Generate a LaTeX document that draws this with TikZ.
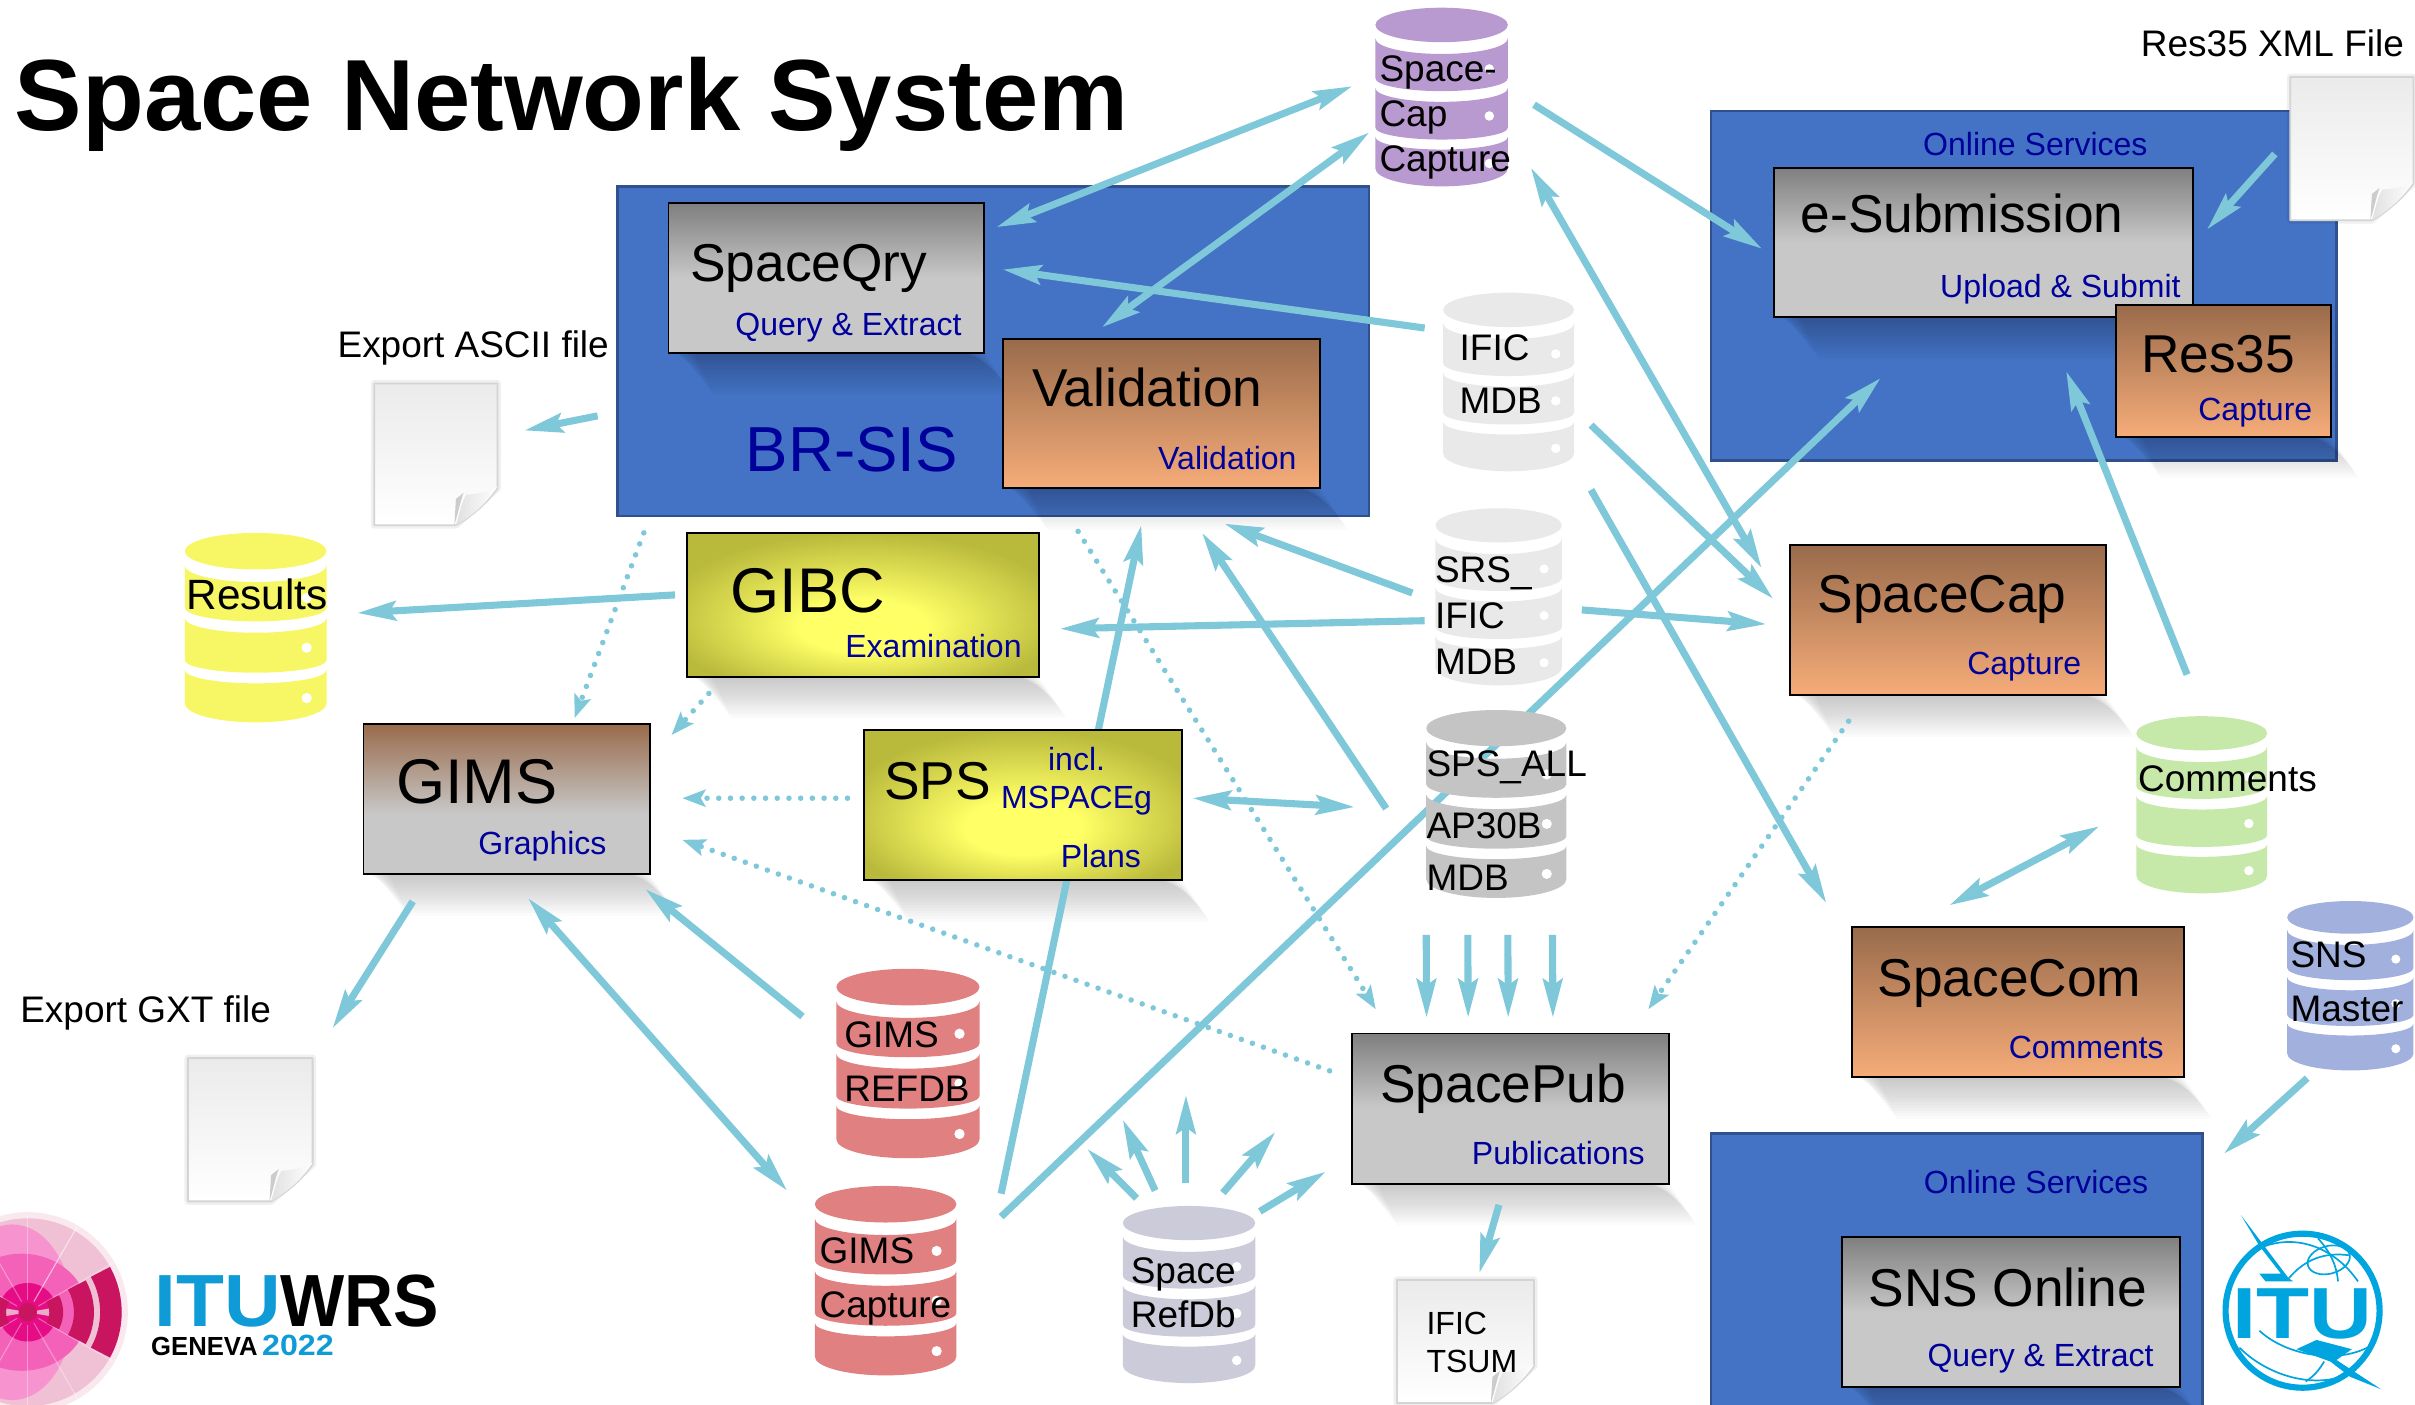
\documentclass[tikz,border=0pt]{standalone}
\usepackage{fontspec}
\setmainfont{Liberation Sans}
\usetikzlibrary{arrows.meta,calc}
\definecolor{panelblue}{HTML}{4472C4}
\definecolor{panelline}{HTML}{2F528F}
\definecolor{subblue}{HTML}{00009A}
\definecolor{flowcyan}{HTML}{7EC8D9}
\definecolor{boxgrey}{HTML}{C8C8C8}
\definecolor{boxdark}{HTML}{7F7F7F}
\definecolor{orangelight}{HTML}{F6AC79}
\definecolor{orangedark}{HTML}{996B4B}
\definecolor{yellowlight}{HTML}{FFFF66}
\definecolor{yellowdark}{HTML}{B9B93C}
\definecolor{dbpurple}{HTML}{B899D0}
\definecolor{dbpale}{HTML}{E9E9E9}
\definecolor{dbgrey}{HTML}{C4C4C4}
\definecolor{dbyellow}{HTML}{F7F765}
\definecolor{dbred}{HTML}{E08080}
\definecolor{dblav}{HTML}{CBCBD9}
\definecolor{dbgreen}{HTML}{C6E8A8}
\definecolor{dbblue}{HTML}{A2B0DE}
\definecolor{ituwrsblue}{HTML}{0E9BD6}
\definecolor{itublue}{HTML}{00A5DF}
\definecolor{wrsdark}{HTML}{C9145F}
\pgfdeclareverticalshading{greybar}{100bp}{color(0bp)=(boxgrey);color(50bp)=(boxgrey);color(75bp)=(boxdark);color(100bp)=(boxdark)}
\pgfdeclareverticalshading{orangebar}{100bp}{color(0bp)=(orangelight);color(25bp)=(orangelight);color(75bp)=(orangedark);color(100bp)=(orangedark)}
\pgfdeclareverticalshading{gimsbar}{100bp}{color(0bp)=(boxgrey);color(45bp)=(boxgrey);color(75bp)=(orangedark);color(100bp)=(orangedark)}
\pgfdeclareradialshading{yellowglow}{\pgfpoint{0bp}{-9bp}}{color(0bp)=(yellowlight);color(9bp)=(yellowlight);color(29bp)=(yellowdark);color(50bp)=(yellowdark)}
\pgfdeclarelayer{panellayer}
\pgfdeclarelayer{shadowlayer}
\pgfdeclarelayer{behindlayer}
\pgfsetlayers{panellayer,shadowlayer,behindlayer,main}
\tikzset{
  boxbase/.style={draw=black,line width=1.2pt,inner sep=0pt,outer sep=0pt,shade},
  appgrey/.style={boxbase,shading=greybar},
  apporange/.style={boxbase,shading=orangebar},
  appgims/.style={boxbase,shading=gimsbar},
  appyellow/.style={boxbase,shading=yellowglow},
  panel/.style={draw=panelline,line width=1.5pt,fill=panelblue,inner sep=0pt,outer sep=0pt},
  flow/.style={draw=flowcyan,line width=4.6pt,-{Stealth[length=25pt,width=12.5pt,inset=4pt]}},
  twoway/.style={flow,{Stealth[length=25pt,width=12.5pt,inset=4pt]}-{Stealth[length=25pt,width=12.5pt,inset=4pt]}},
  dotflow/.style={draw=flowcyan,line width=3.6pt,line cap=round,dash pattern=on 0pt off 7.6pt,-{Stealth[length=15pt,width=11pt,inset=3pt]}},
  maintxt/.style={anchor=base west,inner sep=0pt,font=\fontsize{34.6}{40}\selectfont},
  bigtxt/.style={anchor=base west,inner sep=0pt,font=\fontsize{41}{46}\selectfont},
  subtxt/.style={anchor=base east,inner sep=0pt,text=subblue,font=\fontsize{20.8}{24}\selectfont},
  plaintxt/.style={inner sep=0pt,font=\fontsize{24}{28}\selectfont},
  holder/.style={inner sep=0pt,outer sep=0pt,anchor=north west}
}
% application box: name, style, x1, y1, x2, y2
\newcommand\appbox[6]{%
  \node[#2,anchor=north west,minimum width={(#5-#3)*1pt},minimum height={(#6-#4)*1pt}] (#1) at (#3,#4) {};
  \begin{pgfonlayer}{shadowlayer}
    \foreach \d in {2,4,...,30}
      \fill[black,opacity=.017] ($(#1.south west)+({2+.5*\d},0)$) -- ($(#1.south east)+({-18+.6*\d},0)$)
        -- ($(#1.south east)+({.6*\d},{.9*\d})$) -- ($(#1.south west)+({8+.7*\d},{.9*\d})$) -- cycle;
  \end{pgfonlayer}}
\newcommand\ttl[4]{\node[maintxt] (#1-t) at (#2,#3-1) {#4};}
\newcommand\subl[4]{\node[subtxt] (#1-s) at (#2,#3) {#4};}
\newcommand\segm[4]{%
  \fill (0,#1) .. controls (0,#1+.552*#2) and (.224,#1+#2) .. (.5,#1+#2)
    .. controls (.776,#1+#2) and (1,#1+.552*#2) .. (1,#1) -- (1,#3)
    .. controls (1,#3+.552*#4) and (.776,#3+#4) .. (.5,#3+#4)
    .. controls (.224,#3+#4) and (0,#3+.552*#4) .. (0,#3) -- cycle;}
% database icon: name, x1, y1, x2, y2, colour
\newcommand\dbicon[6]{%
  \pgfmathsetmacro\dbw{#4-#2}\pgfmathsetmacro\dbh{#5-#3}%
  \begin{scope}[shift={(#2,#3)},x=\dbw pt,y=-\dbh pt]
    \fill[#6] (0,.0965) .. controls (0,.0965+.0533) and (.224,.193) .. (.5,.193)
       .. controls (.776,.193) and (1,.0965+.0533) .. (1,.0965)
       .. controls (1,.0433) and (.776,0) .. (.5,0) .. controls (.224,0) and (0,.0433) .. (0,.0965) -- cycle;
    \begin{scope}[fill=#6]
      \segm{.172}{.087}{.395}{.072}
      \segm{.45}{.077}{.672}{.066}
      \segm{.724}{.07}{.9}{.1}
    \end{scope}
    \foreach \q in {.343,.606,.872}
      \fill[white] (.86,\q) ellipse ({.036*\dbw pt} and {.036*\dbw pt});
  \end{scope}
  \node[holder,minimum width=\dbw pt,minimum height=\dbh pt] (#1) at (#2,#3) {};}
% multi-line label: [size] name, x, first baseline, leading, text
\newcommand\lines[6][24]{%
  \node[anchor=north west,inner sep=0pt,align=left,font=\fontsize{#1}{#5}\selectfont] (#2-t) at (#3,#4-18) {\rule{0pt}{18pt}#6};}
% page icon: name, x1, y1, x2, y2
\newcommand\docpage[5]{%
  \pgfmathsetmacro\pw{#4-#2}\pgfmathsetmacro\ph{#5-#3}%
  \begin{scope}[shift={(#2,#3)}]
    \draw[line width=4.5pt,black,opacity=.06,line join=round] (0,0) -- (\pw,0) -- (\pw,\ph-24) -- (\pw-27,\ph) -- (0,\ph) -- cycle;
    \shade[top color=black!8,bottom color=white,draw=black!17,line width=1.2pt,line join=round]
      (0,0) -- (\pw,0) -- (\pw,\ph-24) .. controls (\pw-8,\ph-13) and (\pw-18,\ph-5) .. (\pw-27,\ph) -- (0,\ph) -- cycle;
    \fill[black!20] (\pw-28,\ph) .. controls (\pw-25,\ph-10) and (\pw-24,\ph-16) .. (\pw-22,\ph-21) -- (\pw-27,\ph-17) -- cycle;
    \shade[left color=black!12,right color=white]
      (\pw-27,\ph) .. controls (\pw-24,\ph-10) and (\pw-23,\ph-16) .. (\pw-20,\ph-20)
      .. controls (\pw-13,\ph-20) and (\pw-6,\ph-22) .. (\pw,\ph-25)
      .. controls (\pw-8,\ph-13) and (\pw-18,\ph-5) .. (\pw-27,\ph) -- cycle;
  \end{scope}
  \node[holder,minimum width=\pw pt,minimum height=\ph pt] (#1) at (#2,#3) {};}
% connector between nodes, with offsets from the node centres
\newcommand\conn[5][flow]{\draw[#1] ($(#2)+(#3)$) -- ($(#4)+(#5)$);}
\newcommand\wrsarc[2]{\draw[wrsdark,line width=#2 pt] plot[smooth,domain=-29:29,samples=13] ({#1*cos(\x)},{#1*sin(\x)});}
\begin{document}
\begin{tikzpicture}[x=1pt,y=-1pt]
\useasboundingbox (0,0) rectangle (1568,911.6);

% ---- panels
\begin{pgfonlayer}{panellayer}
  \node[panel,anchor=north west,minimum width=488pt,minimum height=214pt] (brsis) at (401,121) {};
  \node[panel,anchor=north west,minimum width=406pt,minimum height=227pt] (online1) at (1111,72) {};
  \node[panel,anchor=north west,minimum width=319pt,minimum height=180pt] (online2) at (1111,736) {};
\end{pgfonlayer}

% ---- title and free labels
\node[anchor=base west,inner sep=0pt,font=\fontsize{65.7}{70}\selectfont\bfseries] (title) at (9.5,85) {Space Network System};
\node[plaintxt,anchor=base west] (lblascii) at (219,232) {Export ASCII file};
\node[plaintxt,anchor=base west] (lblgxt) at (13,664) {Export GXT file};
\node[plaintxt,anchor=base east] (lblres) at (1561,37) {Res35 XML File};
\node[subtxt,anchor=base] (lblonline1) at (1321.5,101) {Online Services};
\node[subtxt,anchor=base] (lblonline2) at (1322,775) {Online Services};
\node[anchor=base west,inner sep=0pt,text=subblue,font=\fontsize{41.3}{46}\selectfont] (lblbrsis) at (484,306) {BR-SIS};

% ---- application boxes
\appbox{spaceqry}{appgrey}{434}{132}{639}{229}
\ttl{spaceqry}{448}{184}{SpaceQry}\subl{spaceqry}{624.5}{218}{Query \& Extract}
\appbox{validation}{apporange}{651}{220}{857}{317}
\ttl{validation}{670}{265}{Validation}\subl{validation}{842}{305}{Validation}
\appbox{esub}{appgrey}{1152}{109}{1424}{206}
\ttl{esub}{1169}{152}{e-Submission}\subl{esub}{1416}{193}{Upload \& Submit}
\appbox{res35}{apporange}{1374}{198}{1513.5}{283.5}
\ttl{res35}{1390}{243}{Res35}\subl{res35}{1501.5}{273}{Capture}
\appbox{spacecap}{apporange}{1162}{354}{1367.5}{451.5}
\ttl{spacecap}{1180}{399}{SpaceCap}\subl{spacecap}{1351.5}{438}{Capture}
\appbox{spacecom}{apporange}{1202.5}{602}{1418}{699.5}
\ttl{spacecom}{1219}{648}{SpaceCom}\subl{spacecom}{1405}{687}{Comments}
\appbox{spacepub}{appgrey}{878}{671}{1083.5}{768.5}
\ttl{spacepub}{896}{717}{SpacePub}\subl{spacepub}{1068}{756}{Publications}
\appbox{snsonline}{appgrey}{1196}{803}{1415.5}{900.5}
\ttl{snsonline}{1213}{849}{SNS Online}\subl{snsonline}{1398.5}{887}{Query \& Extract}
\appbox{gims}{appgims}{236}{470}{422}{567.5}
\node[bigtxt] (gims-t) at (257,522) {GIMS};\subl{gims}{394}{555}{Graphics}
\appbox{gibc}{appyellow}{446}{346}{674.5}{439.5}
\node[bigtxt] (gibc-t) at (474,398) {GIBC};\subl{gibc}{663.5}{427}{Examination}
\appbox{sps}{appyellow}{561}{474}{767.5}{571.5}
\node[maintxt] (sps-t) at (574,519) {SPS};
\node[subtxt,anchor=base] (sps-a) at (699,500) {incl.};
\node[subtxt,anchor=base] (sps-b) at (699,525) {MSPACEg};
\subl{sps}{741}{563}{Plans}

% ---- databases
\dbicon{spacecapdb}{893}{5}{979}{121}{dbpurple}
\lines{spacecapdb}{895.5}{53}{29}{Space-\\Cap\\Capture}
\dbicon{ific}{937}{190}{1022}{306}{dbpale}
\lines{ific}{947.5}{234}{34}{IFIC\\MDB}
\dbicon{srs}{932}{330}{1014}{445}{dbpale}
\lines{srs}{931.5}{378}{30}{SRS\_\\IFIC\\MDB}
\dbicon{spsall}{926}{461}{1017}{583}{dbgrey}
\lines{spsall}{926}{504}{34}{SPS\_ALL\\[6pt]AP30B\\MDB}
\dbicon{results}{120}{346}{212}{469}{dbyellow}
\lines[27.5]{results}{121}{393.5}{30}{Results}
\dbicon{refdb}{543}{629}{636}{752}{dbred}
\lines{refdb}{548}{680}{35}{GIMS\\REFDB}
\dbicon{gimscap}{529}{770}{621}{893}{dbred}
\lines{gimscap}{532}{820}{35}{GIMS\\Capture}
\dbicon{spacerefdb}{729}{783}{815}{898}{dblav}
\lines{spacerefdb}{734}{833}{29}{Space\\RefDb}
\dbicon{comments}{1387}{465}{1472}{580}{dbgreen}
\lines{comments}{1388}{514}{30}{Comments}
\dbicon{snsmaster}{1485}{585}{1567}{695}{dbblue}
\lines{snsmaster}{1487}{628}{35}{SNS\\Master}

% ---- pages
\docpage{ascii}{243}{249}{323}{341}
\docpage{gxt}{122}{687}{203}{780}
\docpage{tsum}{907}{831}{996}{911}
\docpage{resxml}{1487}{50}{1567}{143}
\lines[20.8]{tsum}{926}{866}{25}{IFIC\\TSUM}

% ---- connectors that run behind the boxes
\begin{pgfonlayer}{behindlayer}
  \conn{gimscap}{75,-56.5}{brsis}{96,113}
  \conn{gimscap}{75,-41.5}{online1}{-93,60}
\end{pgfonlayer}

% ---- connectors
\conn[twoway]{spacecapdb}{-58,-7}{spaceqry}{110.5,-33}
\conn[twoway]{spacecapdb}{-47,23}{validation}{-38.5,-56}
\conn{spacecapdb}{60,5}{esub}{-144,4}
\conn[twoway]{spacecapdb}{58,46}{spacecap}{-121,-34}
\conn{ific}{-54.5,-35}{spaceqry}{114.5,-5.5}
\conn{ific}{53.5,28}{spacecap}{-113.5,-14}
\conn{ific}{53.5,70}{spacecom}{-124.5,-64.5}
\conn{srs}{-56,-2.5}{brsis}{150,112}
\conn{srs}{-48,15.5}{gibc}{128,15.5}
\conn{srs}{54,8.5}{spacecap}{-118,2.5}
\conn{spsall}{-71.5,3}{brsis}{135.5,118}
\conn[twoway]{sps}{110,-4.5}{spsall}{-92,2}
\conn{comments}{-9.5,-84.5}{online1}{27.5,55.5}
\conn{resxml}{-50,3.5}{esub}{145,-8.5}
\conn[twoway]{comments}{-66.5,14}{spacecom}{-44.5,-63}
\conn{snsmaster}{-28,60}{online2}{173.5,-77}
\conn{gims}{-61,66.5}{gxt}{53.5,-66}
\conn[twoway]{gims}{14,64.5}{gimscap}{-64,-58.5}
\conn{refdb}{-68.5,-30.5}{gims}{90,58.5}
\conn{gibc}{-122,-6.5}{results}{66,-9.5}
\conn{brsis}{-257,42}{ascii}{57.5,-15.5}
\conn{spacepub}{-7.5,62.5}{tsum}{9,-44.5}
\conn{spsall}{-45.5,85}{spacepub}{-54.5,-59}
\conn{spsall}{-18.5,85}{spacepub}{-27.5,-59}
\conn{spsall}{7.5,85}{spacepub}{-1.5,-59}
\conn{spsall}{36.5,85}{spacepub}{27.5,-59}
\coordinate (fan1) at (706,746);
\coordinate (fan2) at (729,727);
\coordinate (fan3) at (770,711);
\coordinate (fan4) at (828,735);
\conn{spacerefdb}{-34,-62.5}{fan1}{0,0}
\conn{spacerefdb}{-22,-67.5}{fan2}{0,0}
\conn{spacerefdb}{-2,-72.5}{fan3}{0,0}
\conn{spacerefdb}{22,-66}{fan4}{0,0}
\conn{spacerefdb}{46,-54}{spacepub}{-120,41}
% dotted
\conn[dotflow]{brsis}{-227,118}{gims}{44,-52.5}
\conn[dotflow]{sps}{-114,-4.5}{gims}{114,-.5}
\conn[dotflow]{gibc}{-100,57.5}{gims}{107,-41.5}
\conn[dotflow]{spacepub}{-117.5,-24.5}{gims}{114,26.5}
\conn[dotflow]{brsis}{55,117}{spacepub}{-87.5,-64.5}
\conn[dotflow]{spacecap}{-64.5,65.5}{spacepub}{89.5,-64.5}

% ---- WRS logo
\begin{scope}[shift={(18,852)}]
  \fill[wrsdark!10] (0,0) circle (65pt);
  \fill[wrsdark!27] (0,0) circle (61pt);
  \fill[magenta!42] (-10,0) ellipse (39pt and 57pt);
  \fill[magenta!62] (-4,0) ellipse (43pt and 38pt);
  \fill[magenta!85!wrsdark] (0,0) circle (19pt);
  \fill[wrsdark!35] (0,0) -- (-10:22) -- (10:22) -- cycle;
  \fill[wrsdark!35] (0,0) -- (170:22) -- (190:22) -- cycle;
  \foreach \a in {-60,-30,30,60,90,120,150,210,240,270,300}
    \draw[white,opacity=.35,line width=.7pt] (\a:8) -- (\a:64);
  \fill[wrsdark] (0,0) circle (6pt);
  \wrsarc{18.5}{9}
  \wrsarc{36.5}{13}
  \wrsarc{54}{14}
  \begin{scope}[xscale=-1]\wrsarc{18.5}{9}\end{scope}
\end{scope}
\node[anchor=base west,inner sep=0pt,text=ituwrsblue,xscale=1.06,font=\fontsize{48}{50}\selectfont\bfseries] (wrsitu) at (100,861) {ITU};
\node[anchor=base west,inner sep=0pt,text=black,xscale=.92,font=\fontsize{48}{50}\selectfont\bfseries] (wrswrs) at (182,861) {WRS};
\node[anchor=base west,inner sep=0pt,text=black,xscale=.98,font=\fontsize{17}{18}\selectfont\bfseries] (wrsgeneva) at (98,880) {GENEVA};
\node[anchor=base west,inner sep=0pt,text=ituwrsblue,xscale=1.1,font=\fontsize{19}{20}\selectfont\bfseries] (wrsyear) at (170,880) {2022};

% ---- ITU logo
\begin{scope}[shift={(1495,851)}]
  \draw[itublue,line width=4pt] (0,0) circle (50pt);
  \begin{scope}[draw=itublue,line width=1.1pt]
    \draw (-27,-41) .. controls (-5,-50) and (20,-42) .. (36,-19);
    \draw (-9,-21) .. controls (2,-34) and (15,-38) .. (30,-36);
    \draw[rotate around={15:(17,-33)}] (17,-33) ellipse (14pt and 9pt);
    \draw (10,-47) .. controls (18,-38) and (22,-30) .. (23,-19);
    \draw (-28,13) .. controls (-12,28) and (20,35) .. (42,24);
    \draw (-41,24) .. controls (-20,45) and (15,52) .. (35,38);
    \draw (2,46) .. controls (8,42) and (11,38) .. (14,33);
  \end{scope}
  \fill[itublue] (-40,-62) -- (-9,-21) -- (-6,-19) -- (-24,-19) -- (-28,-24) -- (-14,-24) -- (-28,-42) -- cycle;
  \fill[itublue] (51,51) -- (31,43) -- (18,33) -- (-4,25) -- (9,19) -- (32,25) -- (22,32) -- cycle;
\end{scope}
\node[anchor=base,inner sep=0pt,text=itublue,xscale=1.2,font=\fontsize{47}{50}\selectfont\bfseries] (itutext) at (1495,869) {ITU};
\end{tikzpicture}
\end{document}
